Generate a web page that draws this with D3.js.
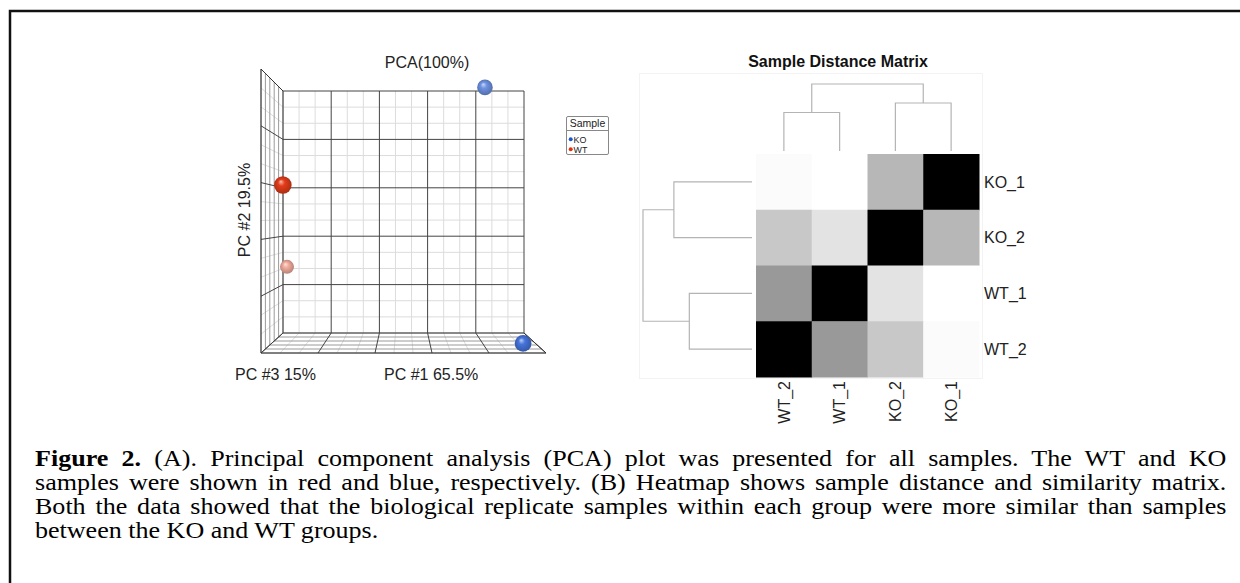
<!DOCTYPE html>
<html lang="en">
<head>
<meta charset="utf-8">
<title>Figure 2</title>
<script src="https://d3js.org/d3.v7.min.js"></script>
<style>
body { margin: 0; background: #fff; }
#caption { position: absolute; left: 35px; top: 446px; width: 1098px;
  font-family: "Liberation Serif", "Times New Roman", serif; font-size: 24px; line-height: 24px;
  transform: scaleX(1.085); transform-origin: 0 0; color: #000; }
#caption div { text-align: justify; text-align-last: justify; white-space: nowrap; }
#caption div.last { text-align-last: left; }
</style>
</head>
<body>
<div id="chart"></div>
<div id="caption"></div>
<script>
// PCA scores
var pcaSamples = ["KO_1", "KO_2", "WT_1", "WT_2"];
var pcaGroup = ["KO", "KO", "WT", "WT"];
var pc1 = [18.9, 26.4, -25.8, -29.0];
var pc2 = [14.4, -14.6, 2.8, -6.8];
var pc3 = [-2, 4, 8, -10];
var groups = ["KO", "WT"];

// sample distance matrix
var rowLabels = ["KO_1", "KO_2", "WT_1", "WT_2"];
var colLabels = ["WT_2", "WT_1", "KO_2", "KO_1"];
var distances = [
  [59, 60, 43, 0],
  [47, 53.5, 0, 43],
  [36, 0, 53.5, 60],
  [0, 36, 47, 59]
];
// hierarchical clustering (same for rows and columns)
var clusterTree = { h: 60, children: [
  { h: 34.5, children: [{ name: "WT_2" }, { name: "WT_1" }] },
  { h: 43, children: [{ name: "KO_2" }, { name: "KO_1" }] }
]};

var captionLines = [
  "(A). Principal component analysis (PCA) plot was presented for all samples. The WT and KO",
  "samples were shown in red and blue, respectively. (B) Heatmap shows sample distance and similarity matrix.",
  "Both the data showed that the biological replicate samples within each group were more similar than samples",
  "between the KO and WT groups."
];

var width = 1240, height = 583;
var svg = d3.select("#chart").append("svg")
    .attr("width", width)
    .attr("height", height)
    .style("display", "block");

svg.append("path")
    .attr("d", "M10," + height + "V11H" + width)
    .attr("fill", "none")
    .attr("stroke", "#111")
    .attr("stroke-width", 2.5);

var sans = "'Liberation Sans', Arial, sans-serif";

// ---------- PCA box ----------
var dom1 = [-30, 30], dom2 = [-15, 15], dom3 = [-10, 10];
var xBack = d3.scaleLinear().domain(dom1).range([283, 524]);
var xFront = d3.scaleLinear().domain(dom1).range([261, 546]);
var yBack = d3.scaleLinear().domain(dom2).range([333, 91]);
var yFront = d3.scaleLinear().domain(dom2).range([353, 69]);
var depth = d3.scaleLinear().domain(dom3).range([0, 1]);

function proj(a, b, c) {
  var t = depth(c);
  return [xBack(a) + (xFront(a) - xBack(a)) * t, yBack(b) + (yFront(b) - yBack(b)) * t];
}

var ticks1 = d3.range(-30, 30.01, 4), ticks2 = d3.range(-15, 15.01, 2), ticks3 = d3.range(-10, 10.01, 4);
function isMajor1(v) { return Math.abs((v + 30) % 12) < 1e-6; }
function isMajor2(v) { return Math.abs((v + 15) % 6) < 1e-6; }

var box = svg.append("g").attr("fill", "none");
var line = function(p, q) { return "M" + p[0] + "," + p[1] + "L" + q[0] + "," + q[1]; };

function drawSet(lines, color, w) {
  box.append("path")
      .attr("d", lines.join(""))
      .attr("stroke", color)
      .attr("stroke-width", w);
}

var minorL = [], majorL = [], depthL = [];
// back wall
ticks1.forEach(function(v) {
  (isMajor1(v) ? majorL : minorL).push(line(proj(v, -15, -10), proj(v, 15, -10)));
});
ticks2.forEach(function(v) {
  (isMajor2(v) ? majorL : minorL).push(line(proj(-30, v, -10), proj(30, v, -10)));
});
// left wall
ticks2.forEach(function(v) {
  (isMajor2(v) ? majorL : minorL).push(line(proj(-30, v, -10), proj(-30, v, 10)));
});
ticks3.forEach(function(d) {
  depthL.push(line(proj(-30, -15, d), proj(-30, 15, d)));
});
// floor
ticks1.forEach(function(v) {
  (isMajor1(v) ? majorL : minorL).push(line(proj(v, -15, -10), proj(v, -15, 10)));
});
ticks3.forEach(function(d) {
  depthL.push(line(proj(-30, -15, d), proj(30, -15, d)));
});
drawSet(minorL, "#dcdcdc", 1);
drawSet(depthL, "#9a9a9a", 1);
drawSet(majorL, "#444", 1);
drawSet([line(proj(-30, 15, -10), proj(-30, 15, 10)), line(proj(-30, 15, 10), proj(-30, -15, 10)),
         line(proj(-30, -15, 10), proj(30, -15, 10)), line(proj(30, -15, 10), proj(30, -15, -10))], "#333", 1);

// spheres
var groupColor = d3.scaleOrdinal().domain(groups).range(["#1c56d4", "#e2300a"]);
var defs = svg.append("defs");
var pts = pcaSamples.map(function(s, i) {
  var t = depth(pc3[i]);
  var base = d3.interpolateRgb(groupColor(pcaGroup[i]), "#ffffff")((1 - t) * 0.6);
  return { name: s, p: proj(pc1[i], pc2[i], pc3[i]), t: t, col: base };
}).sort(function(a, b) { return a.t - b.t; });

pts.forEach(function(d, i) {
  var g = defs.append("radialGradient")
      .attr("id", "sph" + i)
      .attr("cx", "50%").attr("cy", "50%").attr("r", "55%")
      .attr("fx", "38%").attr("fy", "30%");
  g.append("stop").attr("offset", "0%").attr("stop-color", d3.interpolateRgb(d.col, "#fff")(0.65));
  g.append("stop").attr("offset", "35%").attr("stop-color", d.col);
  g.append("stop").attr("offset", "100%").attr("stop-color", d3.color(d.col).darker(0.9));
});

svg.append("g").selectAll("circle")
  .data(pts)
  .enter().append("circle")
    .attr("cx", function(d) { return d.p[0]; })
    .attr("cy", function(d) { return d.p[1]; })
    .attr("r", function(d) { return 7 + 2 * d.t; })
    .attr("fill", function(d, i) { return "url(#sph" + i + ")"; });

// PCA labels
svg.append("text").attr("x", 427).attr("y", 68).attr("text-anchor", "middle")
    .attr("font-family", sans).attr("font-size", 16).attr("fill", "#222").text("PCA(100%)");
svg.append("text").attr("x", 235).attr("y", 380)
    .attr("font-family", sans).attr("font-size", 16).attr("fill", "#222").text("PC #3 15%");
svg.append("text").attr("x", 384).attr("y", 380)
    .attr("font-family", sans).attr("font-size", 16).attr("fill", "#222").text("PC #1 65.5%");
svg.append("text").attr("transform", "translate(250,210) rotate(-90)").attr("text-anchor", "middle")
    .attr("font-family", sans).attr("font-size", 16).attr("fill", "#222").text("PC #2 19.5%");

// legend
var lg = svg.append("g").attr("font-family", sans);
lg.append("rect").attr("x", 566.5).attr("y", 116.5).attr("width", 42).attr("height", 38)
    .attr("rx", 1.5).attr("fill", "#fff").attr("stroke", "#888");
lg.append("line").attr("x1", 566.5).attr("x2", 608.5).attr("y1", 130.5).attr("y2", 130.5).attr("stroke", "#888");
lg.append("text").attr("x", 587.5).attr("y", 127).attr("text-anchor", "middle")
    .attr("font-size", 10.5).attr("fill", "#222").text("Sample");
groups.forEach(function(gname, i) {
  lg.append("circle").attr("cx", 570.7).attr("cy", 139.3 + i * 10).attr("r", 2).attr("fill", groupColor(gname));
  lg.append("text").attr("x", 573.5).attr("y", 142.8 + i * 10)
      .attr("font-size", 8.9).attr("fill", "#222").text(gname);
});

// ---------- heatmap ----------
var hm = svg.append("g");
hm.append("rect").attr("x", 639.5).attr("y", 73.5).attr("width", 343).attr("height", 305)
    .attr("fill", "none").attr("stroke", "#f3f3f3");

var xCol = d3.scaleBand().domain(colLabels).range([756, 979]);
var yRow = d3.scaleBand().domain(rowLabels).range([154, 377]);
var grey = d3.scaleLinear().domain([0, 60]).range(["#000000", "#ffffff"]);

var cells = [];
rowLabels.forEach(function(r, i) {
  colLabels.forEach(function(c, j) { cells.push({ r: r, c: c, v: distances[i][j] }); });
});
hm.selectAll("rect.cell")
  .data(cells)
  .enter().append("rect")
    .attr("class", "cell")
    .attr("x", function(d) { return xCol(d.c); })
    .attr("y", function(d) { return yRow(d.r); })
    .attr("width", xCol.bandwidth() + 0.5)
    .attr("height", yRow.bandwidth() + 0.5)
    .attr("fill", function(d) { return grey(d.v); });

hm.append("text").attr("x", 838).attr("y", 66.5).attr("text-anchor", "middle")
    .attr("font-family", sans).attr("font-size", 16).attr("font-weight", "bold").attr("fill", "#111")
    .text("Sample Distance Matrix");

hm.selectAll("text.row")
  .data(rowLabels)
  .enter().append("text")
    .attr("class", "row")
    .attr("x", 984)
    .attr("y", function(d) { return yRow(d) + yRow.bandwidth() / 2; })
    .attr("dy", "0.36em")
    .attr("font-family", sans).attr("font-size", 16).attr("fill", "#222")
    .text(function(d) { return d; });

hm.selectAll("text.col")
  .data(colLabels)
  .enter().append("text")
    .attr("class", "col")
    .attr("transform", function(d) { return "translate(" + (xCol(d) + xCol.bandwidth() / 2) + ",381) rotate(-90)"; })
    .attr("dy", "0.36em")
    .attr("text-anchor", "end")
    .attr("font-family", sans).attr("font-size", 16).attr("fill", "#222")
    .text(function(d) { return d; });

// dendrograms
var root = d3.hierarchy(clusterTree);
var hCol = d3.scaleLinear().domain([0, 60]).range([151, 84]);
var hRow = d3.scaleLinear().domain([0, 60]).range([752, 643]);

function place(node, leafPos) {
  if (!node.children) { node.pos = leafPos(node.data.name); node.hh = 0; return; }
  node.children.forEach(function(ch) { place(ch, leafPos); });
  node.pos = d3.mean(node.children, function(ch) { return ch.pos; });
  node.hh = node.data.h;
}

function dendroPath(node, orient) {
  var out = [];
  root.each(function(n) {
    if (!n.children) return;
    var a = n.children[0], b = n.children[1];
    if (orient === "top") {
      out.push("M" + a.pos + "," + hCol(a.hh) + "V" + hCol(n.hh) + "H" + b.pos + "V" + hCol(b.hh));
    } else {
      out.push("M" + hRow(a.hh) + "," + a.pos + "H" + hRow(n.hh) + "V" + b.pos + "H" + hRow(b.hh));
    }
  });
  return out.join("");
}

place(root, function(n) { return xCol(n) + xCol.bandwidth() / 2; });
hm.append("path").attr("d", dendroPath(root, "top"))
    .attr("fill", "none").attr("stroke", "#b4b4b4").attr("stroke-width", 1.2);

place(root, function(n) { return yRow(n) + yRow.bandwidth() / 2; });
hm.append("path").attr("d", dendroPath(root, "left"))
    .attr("fill", "none").attr("stroke", "#b4b4b4").attr("stroke-width", 1.2);

// ---------- caption ----------
var cap = d3.select("#caption");
captionLines.forEach(function(t, i) {
  var div = cap.append("div").classed("last", i === captionLines.length - 1);
  if (i === 0) div.append("b").text("Figure 2. ");
  div.append("span").text(t);
});
</script>
</body>
</html>
